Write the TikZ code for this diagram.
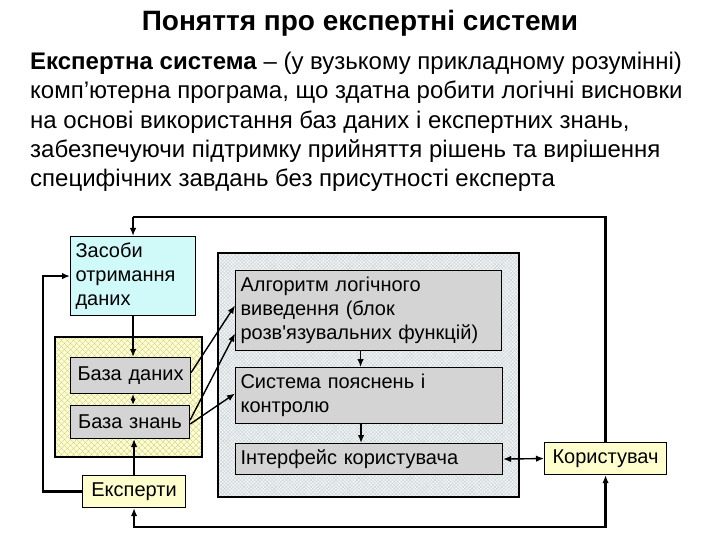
\documentclass[tikz,border=0pt]{standalone}
\usepackage{fontspec}
\setmainfont{Liberation Sans}[Ligatures=TeXOff]
\usetikzlibrary{arrows.meta,positioning,calc,patterns.meta}
\definecolor{BoxGray}    {RGB}{212,212,212}
\definecolor{BoxCyan}    {RGB}{208,250,250}
\definecolor{BoxYellow}  {RGB}{255,255,206}
\definecolor{HatchYellow}{RGB}{200,200,150}
\definecolor{PaneBlue}   {RGB}{240,245,246}
\definecolor{HatchGray}  {RGB}{204,209,212}
\tikzset{
  blockbox/.style={draw,line width=1.1pt,anchor=north west,inner sep=5pt,
       font=\fontsize{20}{24}\selectfont,align=left},
  flow/.style={line width=1.4pt,-{Latex[length=8pt,width=6.5pt]}},
  loopline/.style={line width=2.2pt},
}
\begin{document}
\begin{tikzpicture}[x=1pt,y=-1pt]
  \useasboundingbox (0,0) rectangle (720,540);
  % Title and definition
  \node[font=\fontsize{28}{32}\selectfont\bfseries] (title) at (360,23)
       {Поняття про експертні системи};
  \node[anchor=north west,inner sep=0pt,align=left,
        font=\fontsize{24}{29.3}\selectfont] (defn) at (30,52)
       {\textbf{Експертна система} – (у вузькому прикладному розумінні)\\
        комп’ютерна програма, що здатна робити логічні висновки\\
        на основі використання баз даних і експертних знань,\\
        забезпечуючи підтримку прийняття рішень та вирішення\\
        специфічних завдань без присутності експерта};
  % Containers
  \fill[BoxYellow] (55,337) rectangle (202,457);
  \fill[pattern={Lines[angle=45,distance=4pt,line width=0.5pt]},
        pattern color=HatchYellow] (55,337) rectangle (202,457);
  \fill[pattern={Lines[angle=-45,distance=4pt,line width=0.5pt]},
        pattern color=HatchYellow] (55,337) rectangle (202,457);
  \draw[line width=1.1pt] (55,337) rectangle (202,457);
  \fill[PaneBlue] (218,253) rectangle (519,497);
  \fill[pattern={Lines[angle=45,distance=2.5pt,line width=0.4pt]},
        pattern color=HatchGray] (218,253) rectangle (519,497);
  \fill[pattern={Lines[angle=-45,distance=2.5pt,line width=0.4pt]},
        pattern color=HatchGray] (218,253) rectangle (519,497);
  \draw[line width=1.1pt] (218,253) rectangle (519,497);
  % Blocks
  \node[blockbox,fill=BoxCyan,text width=115pt,minimum height=79pt] (src)
       at (70,236) {Засоби\\отримання\\даних};
  \node[blockbox,fill=BoxGray,text width=110pt,minimum height=36pt,
        align=center] (db) at (70,357) {База даних};
  \node[blockbox,fill=BoxGray,text width=109pt,minimum height=33pt,
        align=center] (kb) at (70,405) {База знань};
  \node[blockbox,fill=BoxYellow,text width=93pt,minimum height=32pt,
        align=center] (exp) at (82,475) {Експерти};
  \node[blockbox,fill=BoxGray,text width=256pt,minimum height=80pt] (alg)
       at (235,270) {Алгоритм логічного\\виведення (блок\\розв'язувальних функцій)};
  \node[blockbox,fill=BoxGray,text width=257pt,minimum height=56pt] (expl)
       at (235,367) {Система пояснень і\\контролю};
  \node[blockbox,fill=BoxGray,text width=257pt,minimum height=31pt] (ui)
       at (235,443) {Інтерфейс користувача};
  \node[blockbox,fill=BoxYellow,text width=112pt,minimum height=32pt,
        align=center] (user) at (544,442) {Користувач};
  % Loop rails
  \coordinate (topY) at (0,217);
  \coordinate (botY) at (0,527);
  \coordinate (leftX) at (43,0);
  \draw[loopline] (user.north) -- (user.north |- topY) -- (src.north |- topY);
  \draw[flow,loopline] (src.north |- topY) -- (src.north);
  \draw[loopline,{Latex[length=8pt,width=6.5pt]}-{Latex[length=8pt,width=6.5pt]}]
       (exp.south) -- (exp.south |- botY) -- (user.south |- botY) -- (user.south);
  \draw[flow,loopline] (exp.west) -- (exp.west -| leftX) |- (src.west);
  % Inner flows
  \draw[flow] (src.south) -- (src.south |- db.north);
  \draw[flow,{Latex[length=6pt,width=5pt]}-{Latex[length=6pt,width=5pt]}]
       (db.south -| src.south) -- (kb.north -| src.south);
  \draw[flow] (exp.north) -- (exp.north |- kb.south);
  \draw[flow] ([yshift=3pt]db.east) -- ([yshift=5pt]alg.west);
  \draw[flow] ([yshift=2pt]kb.east) -- ([yshift=-23pt]alg.west);
  \draw[flow] ([yshift=-2pt]kb.east) -- ([yshift=2pt]expl.west);
  \draw[flow] ([xshift=-8pt]alg.south) -- ([xshift=-8pt]alg.south |- expl.north);
  \draw[flow] ([xshift=-8pt]expl.south) -- ([xshift=-8pt]expl.south |- ui.north);
  \draw[flow,{Latex[length=8pt,width=6.5pt]}-{Latex[length=8pt,width=6.5pt]}]
       (ui.east) -- (user.west);
\end{tikzpicture}
\end{document}
